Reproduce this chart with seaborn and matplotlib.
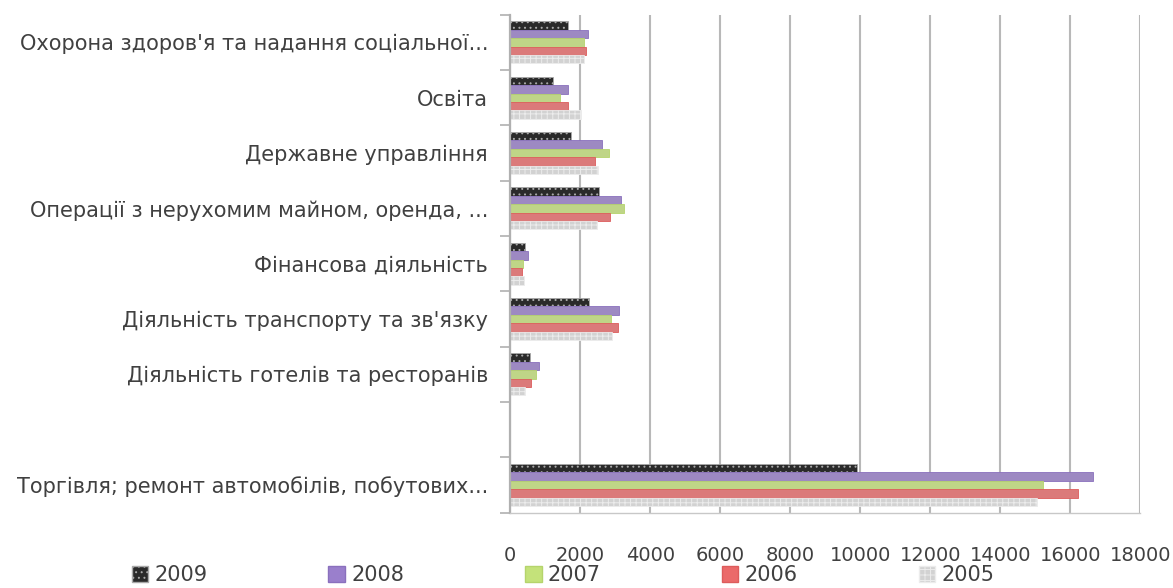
import numpy as np
import pandas as pd
import matplotlib
matplotlib.use("Agg")
import matplotlib.pyplot as plt
import seaborn as sns
from matplotlib.patches import Patch

# -------------------------------
# Data
# -------------------------------
categories = [
    "Охорона здоров'я та надання соціальної...",
    "Освіта",
    "Державне управління",
    "Операції з нерухомим майном, оренда, ...",
    "Фінансова діяльність",
    "Діяльність транспорту та зв'язку",
    "Діяльність готелів та ресторанів",
    "",
    "Торгівля; ремонт автомобілів, побутових...",
]
years = ["2009", "2008", "2007", "2006", "2005"]

v2009 = [1650, 1210, 1750, 2540, 430, 2240, 560, np.nan, 9900]
v2008 = [2220, 1640, 2620, 3160, 500, 3110, 810, np.nan, 16650]
v2007 = [2110, 1430, 2830, 3260, 350, 2880, 730, np.nan, 15230]
v2006 = [2160, 1640, 2430, 2860, 330, 3090, 600, np.nan, 16230]
v2005 = [2110, 2020, 2520, 2470, 400, 2920, 430, np.nan, 15060]

x_ticks = [0, 2000, 4000, 6000, 8000, 10000, 12000, 14000, 16000, 18000]

series = {"2009": v2009, "2008": v2008, "2007": v2007, "2006": v2006, "2005": v2005}
rows = []
for yr in years:
    for cat, val in zip(categories, series[yr]):
        rows.append({"category": cat, "year": yr, "value": val})
df = pd.DataFrame(rows).dropna()

colors = {"2009": "#2a2a2a", "2008": "#9a7fcc", "2007": "#c4e27a",
          "2006": "#eb6a6a", "2005": "#d2d2d2"}
hatches = {"2009": "...", "2008": "", "2007": "", "2006": "", "2005": "+++"}
edges = {"2009": "#a8a8a8", "2008": "#8a70bd", "2007": "#b5d46c",
         "2006": "#dd5c5c", "2005": "#ececec"}

# -------------------------------
# Plot
# -------------------------------
sns.set_theme(style="white")
plt.rcParams["font.family"] = ["DejaVu Sans"]
plt.rcParams["hatch.linewidth"] = 0.7

fig = plt.figure(figsize=(11.73, 5.88), dpi=100)
ax = fig.add_axes([0.435, 0.128, 0.537, 0.847])

sns.barplot(data=df, y="category", x="value", hue="year", order=categories,
            hue_order=years, palette=colors, orient="h", width=0.76, gap=0,
            ax=ax, legend=False)

for yr, cont in zip(years, ax.containers):
    for bar in cont:
        bar.set_hatch(hatches[yr])
        bar.set_edgecolor(edges[yr])
        bar.set_linewidth(0.6)

ax.set_xlim(0, 18000)
ax.set_ylim(len(categories) - 0.5, -0.5)
ax.set_xticks(x_ticks)
ax.set_xticklabels([str(t) for t in x_ticks])
ax.set_xlabel("")
ax.set_ylabel("")

ax.grid(axis="x", color="#b8b8b8", linewidth=1.5)
ax.set_axisbelow(True)
for side in ["top", "right"]:
    ax.spines[side].set_visible(False)
ax.spines["left"].set_color("#b0b0b0")
ax.spines["left"].set_linewidth(1.6)
ax.spines["bottom"].set_color("#c8c8c8")
ax.spines["bottom"].set_linewidth(1.0)

ax.tick_params(axis="x", length=0, pad=24, labelsize=14, labelcolor="#404040")
ax.tick_params(axis="y", which="major", length=0, pad=16, labelsize=15,
               labelcolor="#404040")
ax.set_yticks(np.arange(-0.5, len(categories), 1.0), minor=True)
ax.tick_params(axis="y", which="minor", length=7, width=1.2, color="#b0b0b0",
               left=True)

handles = [Patch(facecolor=colors[yr], edgecolor=edges[yr], hatch=hatches[yr],
                 label=yr) for yr in years]
fig.legend(handles=handles, loc="center", bbox_to_anchor=(0.48, 0.022),
           ncol=5, frameon=False, fontsize=15, handlelength=0.8,
           handleheight=0.8, handletextpad=0.3, columnspacing=5.8,
           labelcolor="#404040")

fig.savefig("out.png", dpi=100)
